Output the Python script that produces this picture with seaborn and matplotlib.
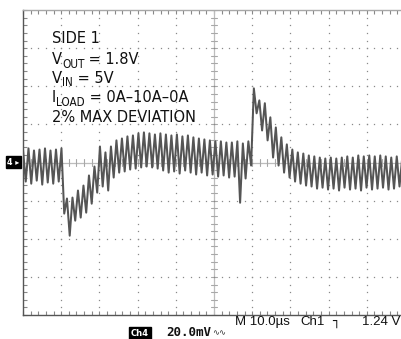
import numpy as np
import pandas as pd
import matplotlib
matplotlib.use("Agg")
import matplotlib.pyplot as plt
from matplotlib import font_manager as fm
import seaborn as sns

# ---- data (mV, 20 mV/div; time 10 us/div) ----
trace_mv = [
    6.8, -10.0, 7.4, -11.1, 6.3, -9.5, 6.8, -11.6, 7.4, -10.5,
    6.3, -11.1, 6.8, -10.0, 7.4, -26.8, -18.9, -38.4, -18.4, -30.5,
    -14.7, -28.9, -12.1, -26.3, -6.8, -21.6, -2.1, -15.8, 8.4, -12.6,
    5.3, -14.7, 8.4, -7.9, 11.6, -5.3, 12.6, -4.7, 13.7, -3.7,
    14.2, -3.2, 15.3, -2.6, 15.8, -2.1, 15.3, -2.6, 14.7, -3.2,
    15.3, -4.2, 14.7, -5.3, 14.2, -4.7, 14.7, -5.8, 13.7, -4.2,
    14.2, -5.3, 13.2, -6.3, 12.6, -5.3, 12.1, -6.8, 11.6, -6.3,
    11.1, -7.4, 11.1, -6.8, 10.5, -7.9, 10.5, -7.4, 11.1, -21.1,
    10.0, -8.4, 11.1, -1.6, 38.9, 25.8, 32.6, 16.8, 31.1, 11.6,
    23.7, 2.6, 18.4, -1.6, 13.2, -5.3, 9.5, -7.9, 6.8, -10.0,
    5.3, -11.1, 4.7, -12.1, 3.7, -12.6, 3.2, -13.7, 2.6, -13.2,
    2.1, -14.2, 2.6, -13.7, 2.1, -14.7, 2.6, -13.2, 3.2, -14.2,
    2.6, -13.7, 3.7, -14.7, 3.2, -13.2, 3.7, -14.2, 3.2, -13.7,
    3.7, -13.2, 3.2, -14.2, 2.6, -13.7, 3.2, -12.6, 2.6, -13.2,
]
t_start_us = 0.0
t_end_us = 100.0

# info lines as (main, subscript, rest)
info_lines = [
    ("SIDE 1", "", ""),
    ("V", "OUT", " = 1.8V"),
    ("V", "IN", " = 5V"),
    ("I", "LOAD", " = 0A–10A–0A"),
    ("2% MAX DEVIATION", "", ""),
]
timebase_text = "M 10.0µs"
trig_text = "Ch1"
level_text = "1.24 V"
ch_label = "Ch4"
scale_text = "20.0mV"

# ---- pick a condensed sans font if one is installed ----
def pick_condensed():
    best = None
    for f in fm.fontManager.ttflist:
        st = f.stretch
        is_cond = ("Narrow" in f.name or "Condensed" in f.name or
                   st in ("condensed", "semi-condensed", "extra-condensed") or
                   (isinstance(st, (int, float)) and st < 500))
        if not is_cond:
            continue
        if f.style != "normal" or f.weight not in (400, "normal", "regular", "book"):
            continue
        if "Mono" in f.name or "Serif" in f.name:
            continue
        score = 0 if "Liberation" in f.name else (1 if "DejaVu" in f.name else 2)
        if best is None or score < best[0]:
            best = (score, f.fname)
    return best[1] if best else None

cond_path = pick_condensed()

# ---- figure ----
W, H = 402, 339
sns.set_style("white")
plt.rcParams["font.family"] = ["Liberation Sans", "DejaVu Sans"]

fig = plt.figure(figsize=(W / 100, H / 100), dpi=100)
ax = fig.add_axes([23 / W, (H - 315) / H, 382 / W, 305 / H])

df = pd.DataFrame({"t": np.linspace(t_start_us, t_end_us, len(trace_mv)), "v": trace_mv})

ax.set_xlim(0, 100)
ax.set_ylim(-80, 80)

# graticule dots
grid_col = "#8a8a8a"
for gx in np.arange(10, 100, 10):
    if gx == 50:
        continue
    ys = np.arange(-80, 80.1, 4)
    ax.plot(np.full_like(ys, gx), ys, ls="none", marker="s", ms=0.9, color=grid_col, mew=0)
for gy in np.arange(-60, 61, 20):
    if gy == 0:
        continue
    xs = np.arange(0, 100.1, 2)
    ax.plot(xs, np.full_like(xs, gy), ls="none", marker="s", ms=0.9, color=grid_col, mew=0)

# center crosshair with ticks
ax.axhline(0, color="#bdbdbd", lw=0.9, zorder=1)
ax.axvline(50, color="#bdbdbd", lw=0.9, zorder=1)
for xx in np.arange(0, 100.1, 2):
    ax.plot([xx, xx], [-1.6, 1.6], color="#a8a8a8", lw=0.8, zorder=1)
for yy in np.arange(-80, 80.1, 4):
    ax.plot([49.2, 50.8], [yy, yy], color="#a8a8a8", lw=0.8, zorder=1)

# trace
sns.lineplot(data=df, x="t", y="v", ax=ax, color="#555555", lw=1.45,
             estimator=None, sort=False, zorder=3)

# frame / border ticks
for s in ["left", "bottom"]:
    ax.spines[s].set_color("#555555")
    ax.spines[s].set_linewidth(1.0)
ax.spines["top"].set_color("#a8a8a8")
ax.spines["top"].set_linewidth(1.0)
ax.spines["right"].set_visible(False)
ax.set_xticks(np.arange(0, 100.1, 2))
ax.set_yticks(np.arange(-80, 80.1, 4))
ax.tick_params(axis="both", which="both", direction="in", length=3, width=0.8,
               color="#888888", labelbottom=False, labelleft=False,
               top=True, bottom=True, left=True, right=False)
ax.set_xlabel("")
ax.set_ylabel("")

# ---- info text (with manual subscripts) ----
renderer = fig.canvas.get_renderer()
if cond_path:
    fp_main = fm.FontProperties(fname=cond_path)
else:
    fp_main = fm.FontProperties(family=["Liberation Sans", "DejaVu Sans"])
probe = fig.text(0, 0, "2% MAX DEVIATION", fontproperties=fp_main, fontsize=12)
wpx = probe.get_window_extent(renderer).width
probe.remove()
main_fs = min(13.0, 12 * 144.0 / wpx)
sub_fs = main_fs * 0.72

baselines = [43, 64, 83, 102, 122]
x0 = 52
for (main, sub, rest), yb in zip(info_lines, baselines):
    t1 = fig.text(x0 / W, 1 - yb / H, main, fontproperties=fp_main, fontsize=main_fs,
                  va="baseline", ha="left", color="#111111")
    if sub:
        bb = t1.get_window_extent(renderer)
        xs = bb.x1 / W
        t2 = fig.text(xs, 1 - (yb + 3.5) / H, sub, fontproperties=fp_main, fontsize=sub_fs,
                      va="baseline", ha="left", color="#111111")
        bb2 = t2.get_window_extent(renderer)
        fig.text(bb2.x1 / W, 1 - yb / H, rest, fontproperties=fp_main, fontsize=main_fs,
                 va="baseline", ha="left", color="#111111")

# ground marker
fig.text(13.5 / W, 1 - 162 / H, "4 ▸", fontsize=5.8, color="white", ha="center", va="center",
         family=["DejaVu Sans"], fontweight="bold",
         bbox=dict(boxstyle="square,pad=0.2", fc="black", ec="black"))

# bottom status text
fs = 9.5
fig.text(235 / W, 1 - 322 / H, timebase_text, fontsize=fs, va="center", ha="left",
         family=["Liberation Sans", "DejaVu Sans"], color="#111111")
fig.text(300 / W, 1 - 322 / H, trig_text, fontsize=fs, va="center", ha="left",
         family=["Liberation Sans", "DejaVu Sans"], color="#111111")
fig.text(332 / W, 1 - 321 / H, "┐", fontsize=9, va="center", ha="left",
         family=["DejaVu Sans"], color="#111111")
fig.text(400 / W, 1 - 322 / H, level_text, fontsize=fs, va="center", ha="right",
         family=["Liberation Sans", "DejaVu Sans"], color="#111111")

fig.text(140 / W, 1 - 333 / H, ch_label, fontsize=6, va="center", ha="center",
         family=["DejaVu Sans"], fontweight="bold", color="white",
         bbox=dict(boxstyle="square,pad=0.2", fc="black", ec="black"))
fig.text(166 / W, 1 - 333 / H, scale_text, fontsize=9, va="center", ha="left",
         family=["DejaVu Sans Mono"], fontweight="bold", color="#111111")
fig.text(212 / W, 1 - 333 / H, "∿∿", fontsize=6, va="center", ha="left",
         family=["DejaVu Sans"], color="#333333")

fig.savefig("out.png", dpi=100)
